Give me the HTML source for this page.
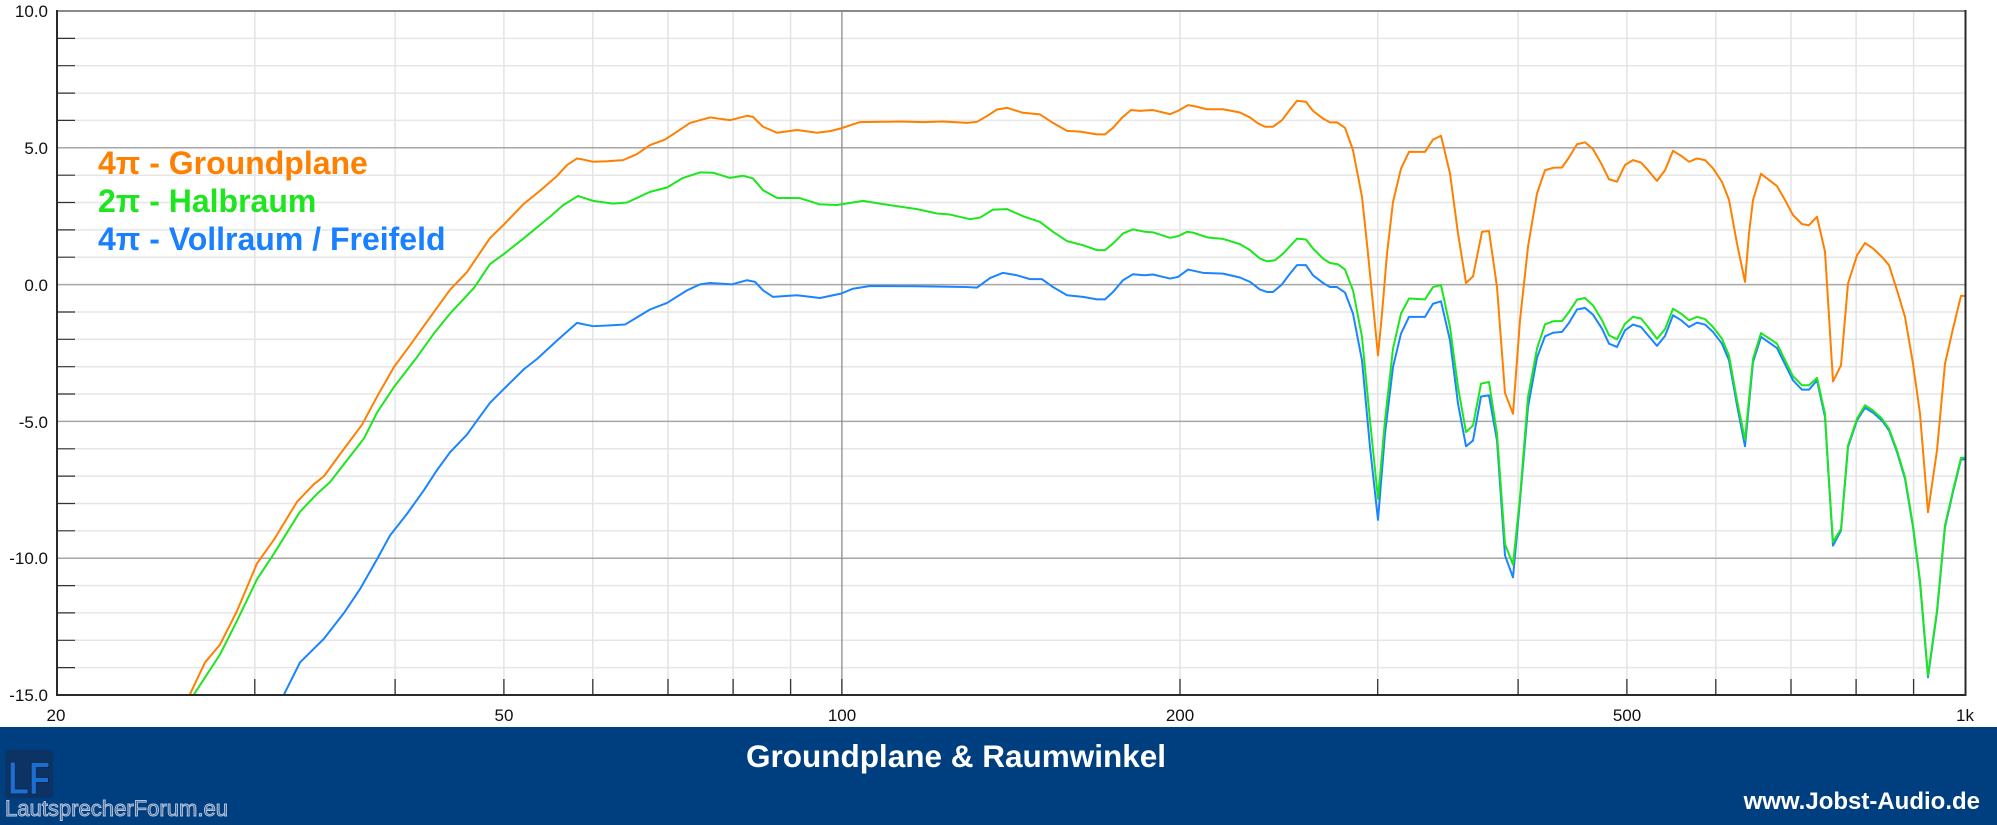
<!DOCTYPE html>
<html>
<head>
<meta charset="utf-8">
<style>
html,body{margin:0;padding:0;background:#fff;}
svg{display:block;}
</style>
</head>
<body>
<svg width="1997" height="825" viewBox="0 0 1997 825" xmlns="http://www.w3.org/2000/svg">
<rect x="0" y="0" width="1997" height="825" fill="#ffffff"/>
<defs>
<clipPath id="plot"><rect x="57" y="11" width="1909" height="684"/></clipPath>
</defs>

<!-- minor horizontal grid -->
<g stroke="#e6e6e6" stroke-width="1.5">
<line x1="57" x2="1966" y1="38.4" y2="38.4"/>
<line x1="57" x2="1966" y1="65.7" y2="65.7"/>
<line x1="57" x2="1966" y1="93.1" y2="93.1"/>
<line x1="57" x2="1966" y1="120.4" y2="120.4"/>
<line x1="57" x2="1966" y1="175.2" y2="175.2"/>
<line x1="57" x2="1966" y1="202.5" y2="202.5"/>
<line x1="57" x2="1966" y1="229.9" y2="229.9"/>
<line x1="57" x2="1966" y1="257.2" y2="257.2"/>
<line x1="57" x2="1966" y1="312.0" y2="312.0"/>
<line x1="57" x2="1966" y1="339.3" y2="339.3"/>
<line x1="57" x2="1966" y1="366.7" y2="366.7"/>
<line x1="57" x2="1966" y1="394.0" y2="394.0"/>
<line x1="57" x2="1966" y1="448.8" y2="448.8"/>
<line x1="57" x2="1966" y1="476.1" y2="476.1"/>
<line x1="57" x2="1966" y1="503.5" y2="503.5"/>
<line x1="57" x2="1966" y1="530.8" y2="530.8"/>
<line x1="57" x2="1966" y1="585.6" y2="585.6"/>
<line x1="57" x2="1966" y1="612.9" y2="612.9"/>
<line x1="57" x2="1966" y1="640.3" y2="640.3"/>
<line x1="57" x2="1966" y1="667.6" y2="667.6"/>
</g>
<!-- vertical grid -->
<g stroke="#e4e4e4" stroke-width="1.5">
<line y1="11" y2="695" x1="254.8" x2="254.8"/>
<line y1="11" y2="695" x1="395.1" x2="395.1"/>
<line y1="11" y2="695" x1="503.9" x2="503.9"/>
<line y1="11" y2="695" x1="592.8" x2="592.8"/>
<line y1="11" y2="695" x1="668.0" x2="668.0"/>
<line y1="11" y2="695" x1="733.1" x2="733.1"/>
<line y1="11" y2="695" x1="790.6" x2="790.6"/>
<line y1="11" y2="695" x1="1180" x2="1180"/>
<line y1="11" y2="695" x1="1377.7" x2="1377.7"/>
<line y1="11" y2="695" x1="1518.1" x2="1518.1"/>
<line y1="11" y2="695" x1="1626.9" x2="1626.9"/>
<line y1="11" y2="695" x1="1715.8" x2="1715.8"/>
<line y1="11" y2="695" x1="1791.0" x2="1791.0"/>
<line y1="11" y2="695" x1="1856.1" x2="1856.1"/>
<line y1="11" y2="695" x1="1913.6" x2="1913.6"/>
</g>
<!-- major lines -->
<g stroke="#a6a6a6" stroke-width="1.5">
<line x1="57" x2="1966" y1="147.8" y2="147.8"/>
<line x1="57" x2="1966" y1="284.6" y2="284.6"/>
<line x1="57" x2="1966" y1="421.4" y2="421.4"/>
<line x1="57" x2="1966" y1="558.2" y2="558.2"/>
</g>
<line x1="841.9" x2="841.9" y1="11" y2="695" stroke="#8c8c8c" stroke-width="1.3"/>
<!-- top border -->
<line x1="57" x2="1966" y1="11" y2="11" stroke="#8a8a8a" stroke-width="2"/>

<!-- left ticks -->
<g stroke="#333" stroke-width="1.2">
<line x1="57" x2="75" y1="38.4" y2="38.4"/>
<line x1="57" x2="75" y1="65.7" y2="65.7"/>
<line x1="57" x2="75" y1="93.1" y2="93.1"/>
<line x1="57" x2="75" y1="120.4" y2="120.4"/>
<line x1="57" x2="75" y1="175.2" y2="175.2"/>
<line x1="57" x2="75" y1="202.5" y2="202.5"/>
<line x1="57" x2="75" y1="229.9" y2="229.9"/>
<line x1="57" x2="75" y1="257.2" y2="257.2"/>
<line x1="57" x2="75" y1="312.0" y2="312.0"/>
<line x1="57" x2="75" y1="339.3" y2="339.3"/>
<line x1="57" x2="75" y1="366.7" y2="366.7"/>
<line x1="57" x2="75" y1="394.0" y2="394.0"/>
<line x1="57" x2="75" y1="448.8" y2="448.8"/>
<line x1="57" x2="75" y1="476.1" y2="476.1"/>
<line x1="57" x2="75" y1="503.5" y2="503.5"/>
<line x1="57" x2="75" y1="530.8" y2="530.8"/>
<line x1="57" x2="75" y1="585.6" y2="585.6"/>
<line x1="57" x2="75" y1="612.9" y2="612.9"/>
<line x1="57" x2="75" y1="640.3" y2="640.3"/>
<line x1="57" x2="75" y1="667.6" y2="667.6"/>
</g>
<!-- bottom ticks -->
<g stroke="#333" stroke-width="1.3">
<line y1="679" y2="695" x1="254.8" x2="254.8"/>
<line y1="679" y2="695" x1="395.1" x2="395.1"/>
<line y1="679" y2="695" x1="503.9" x2="503.9"/>
<line y1="679" y2="695" x1="592.8" x2="592.8"/>
<line y1="679" y2="695" x1="668.0" x2="668.0"/>
<line y1="679" y2="695" x1="733.1" x2="733.1"/>
<line y1="679" y2="695" x1="790.6" x2="790.6"/>
<line y1="679" y2="695" x1="841.9" x2="841.9"/>
<line y1="679" y2="695" x1="1180" x2="1180"/>
<line y1="679" y2="695" x1="1377.7" x2="1377.7"/>
<line y1="679" y2="695" x1="1518.1" x2="1518.1"/>
<line y1="679" y2="695" x1="1626.9" x2="1626.9"/>
<line y1="679" y2="695" x1="1715.8" x2="1715.8"/>
<line y1="679" y2="695" x1="1791.0" x2="1791.0"/>
<line y1="679" y2="695" x1="1856.1" x2="1856.1"/>
<line y1="679" y2="695" x1="1913.6" x2="1913.6"/>
</g>

<!-- curves -->
<g clip-path="url(#plot)">
<g transform="matrix(1 0 0 -27.36 0 284.6)" fill="none" stroke-width="2" stroke-linejoin="round" stroke-linecap="round">
<polyline vector-effect="non-scaling-stroke" stroke="#ff8000" points="187,-15.2 205,-13.81 220,-13.16 237,-11.93 257,-10.19 274,-9.32 297,-7.94 314,-7.29 324,-7.0 340,-6.2 362,-5.12 377,-4.10 394,-3.01 410,-2.22 427,-1.35 450,-0.19 467,0.46 490,1.70 504,2.20 524,2.96 540,3.43 557,3.97 567,4.37 577,4.61 583,4.57 593,4.49 607,4.51 623,4.55 637,4.77 650,5.10 665,5.30 677,5.59 690,5.91 710,6.11 730,6.01 747,6.17 753,6.13 763,5.77 777,5.55 797,5.65 817,5.55 830,5.61 841,5.71 860,5.94 883,5.95 900,5.96 923,5.94 943,5.96 967,5.91 977,5.95 987,6.16 997,6.40 1007,6.46 1023,6.28 1040,6.22 1053,5.91 1067,5.62 1080,5.59 1097,5.49 1105,5.49 1113,5.73 1122,6.10 1131,6.38 1140,6.35 1153,6.38 1170,6.23 1178,6.35 1188,6.56 1197,6.50 1207,6.41 1223,6.41 1240,6.29 1250,6.11 1258,5.89 1265,5.77 1273,5.77 1282,6.01 1290,6.40 1297,6.72 1306,6.68 1313,6.35 1323,6.07 1330,5.93 1337,5.93 1345,5.73 1353,4.91 1362,3.21 1368,1.13 1378,-2.59 1382,-1.06 1387,1.13 1393,3.02 1401,4.24 1409,4.85 1425,4.85 1433,5.30 1441,5.44 1450,4.06 1458,1.87 1466,0.06 1473,0.30 1482,1.93 1489,1.96 1497,-0.09 1505,-3.96 1513,-4.72 1520,-1.30 1528,1.38 1537,3.33 1545,4.18 1553,4.27 1562,4.28 1569,4.65 1577,5.13 1585,5.20 1593,4.95 1602,4.37 1609,3.85 1617,3.76 1625,4.37 1633,4.55 1641,4.46 1648,4.18 1657,3.79 1665,4.18 1673,4.89 1681,4.71 1689,4.49 1697,4.61 1705,4.55 1713,4.25 1722,3.75 1729,3.1 1737,1.5 1745,0.1 1749,1.87 1753,3.09 1761,4.05 1777,3.6 1785,3.09 1793,2.54 1802,2.21 1809,2.17 1817,2.48 1825,1.20 1828,-0.57 1833,-3.54 1841,-2.95 1848,0.04 1857,1.07 1865,1.52 1873,1.32 1882,1.01 1889,0.71 1897,-0.21 1905,-1.18 1913,-2.89 1920,-4.72 1928,-8.32 1937,-6.06 1945,-2.89 1953,-1.61 1961,-0.41 1966,-0.41"/>
<polyline vector-effect="non-scaling-stroke" stroke="#1a85ff" points="281,-15.2 300,-13.81 324,-12.94 344,-12.0 360,-11.13 377,-10.04 390,-9.17 407,-8.38 424,-7.51 437,-6.78 450,-6.13 467,-5.48 477,-4.97 490,-4.32 504,-3.81 524,-3.09 537,-2.72 558,-2.01 577,-1.40 593,-1.52 610,-1.49 625,-1.46 650,-0.91 667,-0.67 687,-0.21 700,0.01 710,0.06 732,0.01 747,0.16 755,0.10 763,-0.21 773,-0.45 797,-0.39 820,-0.49 841,-0.33 853,-0.15 870,-0.05 917,-0.06 967,-0.09 977,-0.11 990,0.24 1003,0.43 1017,0.34 1030,0.20 1042,0.20 1053,-0.09 1067,-0.39 1083,-0.45 1097,-0.54 1105,-0.54 1113,-0.27 1123,0.16 1133,0.38 1145,0.34 1153,0.37 1170,0.22 1178,0.28 1188,0.55 1203,0.43 1223,0.40 1240,0.26 1250,0.10 1260,-0.18 1267,-0.27 1273,-0.27 1282,0.01 1290,0.40 1297,0.71 1306,0.71 1313,0.34 1323,0.06 1330,-0.09 1337,-0.09 1345,-0.29 1353,-1.06 1362,-2.77 1370,-5.94 1378,-8.60 1385,-5.45 1393,-3.01 1401,-1.79 1409,-1.18 1425,-1.18 1433,-0.70 1441,-0.61 1450,-2.04 1458,-4.35 1466,-5.91 1473,-5.70 1481,-4.09 1489,-4.05 1497,-5.70 1505,-9.90 1513,-10.70 1520,-7.89 1528,-4.48 1537,-2.67 1545,-1.89 1553,-1.76 1562,-1.73 1569,-1.40 1577,-0.91 1585,-0.85 1593,-1.10 1602,-1.61 1609,-2.16 1617,-2.28 1625,-1.67 1633,-1.46 1641,-1.55 1648,-1.85 1657,-2.24 1665,-1.88 1673,-1.12 1681,-1.30 1689,-1.55 1697,-1.39 1705,-1.46 1713,-1.73 1722,-2.16 1729,-2.77 1737,-4.41 1745,-5.91 1753,-2.83 1761,-1.91 1777,-2.32 1793,-3.50 1802,-3.84 1809,-3.84 1817,-3.50 1825,-4.84 1833,-9.54 1841,-8.99 1848,-5.94 1857,-4.96 1865,-4.50 1873,-4.68 1882,-4.97 1889,-5.33 1897,-6.12 1905,-7.10 1913,-8.86 1920,-10.88 1928,-14.35 1937,-11.97 1945,-8.86 1953,-7.58 1961,-6.39 1966,-6.39"/>
<polyline vector-effect="non-scaling-stroke" stroke="#1ee61e" points="190,-15.2 220,-13.52 237,-12.29 257,-10.77 274,-9.83 300,-8.30 317,-7.65 330,-7.22 347,-6.42 364,-5.62 377,-4.68 394,-3.74 417,-2.65 434,-1.78 450,-1.06 474,-0.12 490,0.75 504,1.12 524,1.70 550,2.48 563,2.90 578,3.24 593,3.06 613,2.96 627,3.0 650,3.39 667,3.55 683,3.90 700,4.10 713,4.09 730,3.90 743,3.98 753,3.88 763,3.45 777,3.17 800,3.16 820,2.93 837,2.91 863,3.06 883,2.94 917,2.76 937,2.60 950,2.56 970,2.39 980,2.45 993,2.74 1007,2.76 1023,2.50 1040,2.29 1053,1.93 1067,1.59 1083,1.44 1097,1.26 1105,1.26 1113,1.50 1123,1.87 1133,2.02 1145,1.93 1153,1.91 1170,1.71 1178,1.77 1187,1.93 1193,1.90 1208,1.72 1223,1.67 1240,1.48 1250,1.26 1260,0.95 1267,0.85 1275,0.89 1283,1.13 1297,1.68 1306,1.65 1313,1.32 1323,0.95 1330,0.79 1338,0.74 1345,0.55 1353,-0.21 1362,-1.91 1370,-4.96 1378,-7.83 1385,-4.96 1393,-2.34 1401,-1.06 1409,-0.51 1425,-0.54 1433,-0.09 1441,-0.02 1450,-1.55 1458,-3.74 1466,-5.39 1473,-5.15 1481,-3.62 1489,-3.56 1497,-5.45 1505,-9.48 1513,-10.24 1520,-7.77 1528,-4.11 1537,-2.34 1545,-1.45 1553,-1.34 1562,-1.33 1569,-1.0 1577,-0.55 1585,-0.49 1593,-0.76 1602,-1.30 1609,-1.85 1617,-2.0 1625,-1.43 1633,-1.18 1641,-1.24 1648,-1.55 1657,-1.98 1665,-1.63 1673,-0.88 1681,-1.06 1689,-1.30 1697,-1.18 1705,-1.26 1713,-1.55 1722,-1.98 1729,-2.59 1737,-4.23 1745,-5.67 1753,-2.71 1761,-1.77 1777,-2.16 1793,-3.35 1802,-3.68 1809,-3.68 1817,-3.41 1825,-4.72 1828,-6.67 1833,-9.41 1841,-8.93 1848,-5.88 1857,-4.90 1865,-4.41 1873,-4.60 1882,-4.90 1889,-5.27 1897,-6.06 1905,-7.04 1913,-8.80 1920,-10.82 1928,-14.29 1937,-11.91 1945,-8.80 1953,-7.52 1961,-6.33 1966,-6.33"/>
</g>
</g>

<!-- axes -->
<line x1="57" x2="57" y1="10" y2="696" stroke="#2a2a2a" stroke-width="2"/>
<line x1="56" x2="1966" y1="695" y2="695" stroke="#2a2a2a" stroke-width="2"/>
<line x1="1965.5" x2="1965.5" y1="10" y2="696" stroke="#2a2a2a" stroke-width="2"/>

<!-- y labels -->
<g font-family="'Liberation Sans', Arial, sans-serif" font-size="17" fill="#111" text-anchor="end">
<text x="48" y="17">10.0</text>
<text x="48" y="154">5.0</text>
<text x="48" y="291">0.0</text>
<text x="48" y="428">-5.0</text>
<text x="48" y="564">-10.0</text>
<text x="48" y="701">-15.0</text>
</g>
<!-- x labels -->
<g font-family="'Liberation Sans', Arial, sans-serif" font-size="17" fill="#111" text-anchor="middle">
<text x="56" y="721">20</text>
<text x="504" y="721">50</text>
<text x="842" y="721">100</text>
<text x="1180" y="721">200</text>
<text x="1627" y="721">500</text>
<text x="1965" y="721">1k</text>
</g>

<!-- legend -->
<g font-family="'Liberation Sans', Arial, sans-serif" font-size="32" font-weight="bold">
<text x="98" y="174" fill="#ff8000">4π - Groundplane</text>
<text x="98" y="212" fill="#1ee61e">2π - Halbraum</text>
<text x="98" y="250" fill="#1a80ff">4π - Vollraum / Freifeld</text>
</g>

<!-- footer band -->
<rect x="0" y="727" width="1997" height="98" fill="#003f7f"/>
<text x="956" y="767" font-family="'Liberation Sans', Arial, sans-serif" font-size="31.5" font-weight="bold" fill="#ffffff" text-anchor="middle">Groundplane &amp; Raumwinkel</text>
<text x="1980" y="809" font-family="'Liberation Sans', Arial, sans-serif" font-size="24" font-weight="bold" fill="#ffffff" text-anchor="end">www.Jobst-Audio.de</text>

<!-- logo -->
<rect x="5" y="750" width="48" height="48" rx="4" fill="#0c3363"/>
<text x="8" y="794" font-family="'Liberation Sans', Arial, sans-serif" font-size="46" font-weight="bold" fill="#1c6fd2" stroke="#0a2850" stroke-width="1" textLength="42" lengthAdjust="spacingAndGlyphs">LF</text>
<text x="5" y="816" font-family="'Liberation Sans', Arial, sans-serif" font-size="22" fill="#3f6aa6" stroke="#b9c5d8" stroke-width="0.9" textLength="223" lengthAdjust="spacingAndGlyphs">LautsprecherForum.eu</text>
</svg>
</body>
</html>
